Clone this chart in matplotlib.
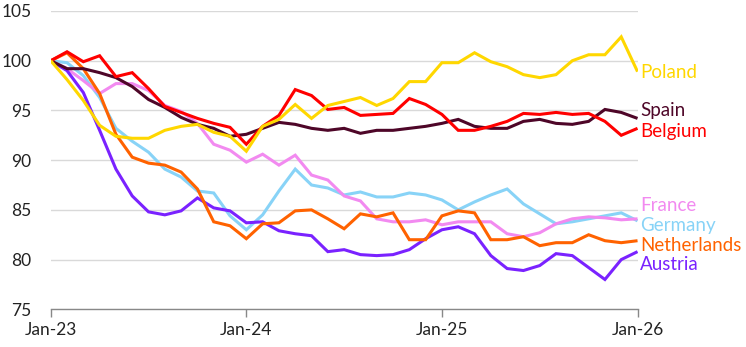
import matplotlib
matplotlib.use("Agg")
import matplotlib.pyplot as plt
import numpy as np

# Monthly index, Jan-23 = 100, through Jan-26
months = np.arange(37)
tick_positions = [0, 12, 24, 36]
tick_labels = ["Jan-23", "Jan-24", "Jan-25", "Jan-26"]
y_ticks = [75, 80, 85, 90, 95, 100, 105]

poland = [100, 98.1, 96.0, 93.5, 92.4, 92.2, 92.2, 93.0, 93.4, 93.6, 92.8, 92.4,
          90.9, 93.4, 94.1, 95.6, 94.2, 95.5, 95.9, 96.3, 95.5, 96.2, 97.9, 97.9,
          99.8, 99.8, 100.8, 99.9, 99.4, 98.6, 98.3, 98.6, 100.0, 100.6, 100.6, 102.4,
          98.9]
spain = [100, 99.2, 99.2, 98.8, 98.3, 97.4, 96.1, 95.3, 94.3, 93.6, 93.2, 92.4,
         92.6, 93.2, 93.8, 93.6, 93.2, 93.0, 93.2, 92.7, 93.0, 93.0, 93.2, 93.4,
         93.7, 94.1, 93.4, 93.2, 93.2, 93.9, 94.1, 93.7, 93.6, 93.9, 95.1, 94.8,
         94.2]
belgium = [100, 100.9, 99.9, 100.5, 98.4, 98.8, 97.2, 95.4, 94.8, 94.2, 93.7, 93.3,
           91.6, 93.4, 94.5, 97.1, 96.5, 95.1, 95.3, 94.5, 94.6, 94.7, 96.2, 95.6,
           94.6, 93.0, 93.0, 93.4, 93.9, 94.7, 94.6, 94.8, 94.6, 94.7, 93.9, 92.5,
           93.2]
france = [100, 99.2, 98.0, 96.7, 97.7, 97.7, 97.0, 95.5, 94.9, 93.7, 91.6, 91.0,
          89.8, 90.6, 89.5, 90.5, 88.5, 88.0, 86.4, 85.9, 84.1, 83.8, 83.8, 84.0,
          83.5, 83.8, 83.8, 83.8, 82.6, 82.3, 82.7, 83.6, 84.1, 84.3, 84.2, 84.0,
          84.1]
germany = [100, 99.8, 98.5, 96.3, 93.2, 91.9, 90.8, 89.1, 88.3, 86.9, 86.7, 84.4,
           83.0, 84.5, 86.9, 89.1, 87.5, 87.2, 86.5, 86.8, 86.3, 86.3, 86.7, 86.5,
           86.0, 85.0, 85.8, 86.5, 87.1, 85.6, 84.6, 83.6, 83.8, 84.1, 84.4, 84.7,
           83.9]
netherlands = [100, 100.8, 99.2, 96.7, 92.6, 90.3, 89.7, 89.5, 88.8, 87.1, 83.8, 83.4,
               82.1, 83.6, 83.7, 84.9, 85.0, 84.1, 83.1, 84.6, 84.3, 84.7, 82.0, 82.0,
               84.4, 84.9, 84.7, 82.0, 82.0, 82.3, 81.4, 81.7, 81.7, 82.5, 81.9, 81.7,
               81.9]
austria = [100, 99.0, 96.8, 93.0, 89.1, 86.4, 84.8, 84.5, 84.9, 86.2, 85.2, 84.9,
           83.7, 83.8, 82.9, 82.6, 82.4, 80.8, 81.0, 80.5, 80.4, 80.5, 81.0, 82.1,
           83.0, 83.3, 82.6, 80.4, 79.1, 78.9, 79.4, 80.6, 80.4, 79.2, 78.0, 80.0,
           80.8]

# (name, values, colour, label y position)
series = [
    ("Germany", germany, "#88D3F7", 83.4),
    ("France", france, "#F28AF0", 85.4),
    ("Austria", austria, "#7A22FF", 79.5),
    ("Netherlands", netherlands, "#FF6200", 81.4),
    ("Spain", spain, "#4E0628", 95.0),
    ("Belgium", belgium, "#FF0000", 92.9),
    ("Poland", poland, "#FFD700", 98.8),
]

plt.rcParams["font.family"] = ["Lato", "DejaVu Sans"]

fig = plt.figure(figsize=(7.46, 3.47), dpi=100)
ax = fig.add_axes([0.068, 0.1086, 0.7866, 0.8597])

for name, vals, color, label_y in series:
    ax.plot(months, vals, color=color, lw=2.2, solid_joinstyle="miter",
            solid_capstyle="butt", zorder=3)
    ax.text(36.15, label_y, name, color=color, fontsize=13.5,
            va="center", ha="left", clip_on=False)

ax.set_xlim(0, 36)
ax.set_ylim(75, 105)
ax.set_yticks(y_ticks)
ax.set_xticks(tick_positions)
ax.set_xticklabels(tick_labels)
ax.grid(axis="y", color="#D9D9D9", lw=1, zorder=0)
ax.grid(axis="x", visible=False)

for side in ("top", "right", "left"):
    ax.spines[side].set_visible(False)
ax.spines["bottom"].set_color("#888888")
ax.spines["bottom"].set_linewidth(1)
ax.spines["bottom"].set_zorder(1)

ax.tick_params(axis="y", length=0, pad=14, labelsize=12.5, labelcolor="#222222")
ax.tick_params(axis="x", length=6, width=1, color="#888888", pad=3,
               labelsize=12.5, labelcolor="#222222")

fig.savefig("out.png", dpi=100)
